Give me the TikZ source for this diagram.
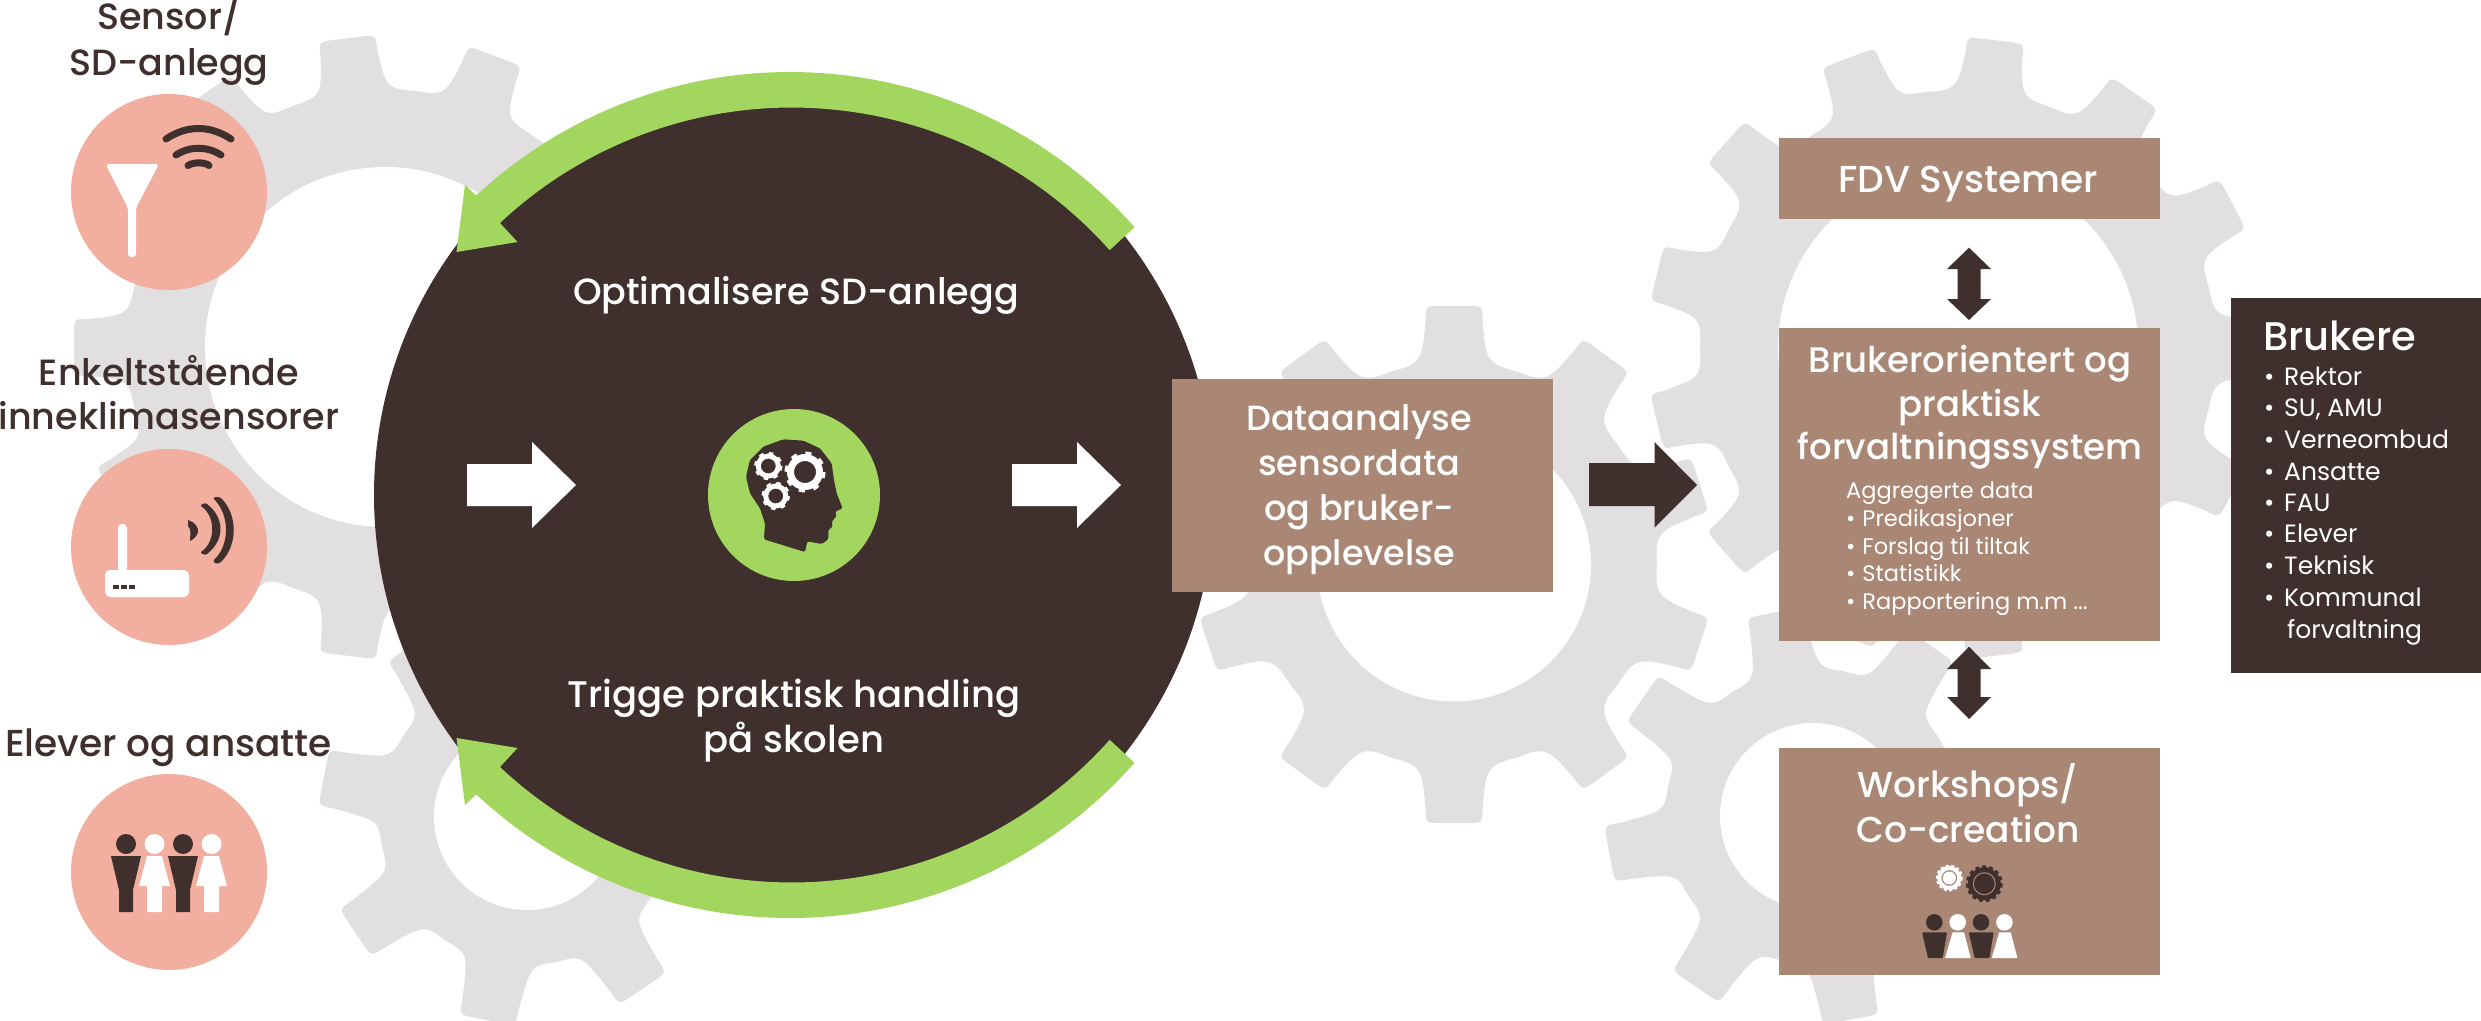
\documentclass[tikz,border=0pt]{standalone}
\usepackage{fontspec}
\setmainfont{Poppins}
\newfontfamily\med{Poppins Medium}
\usetikzlibrary{calc}
\definecolor{dk}{RGB}{63,48,45}
\definecolor{grn}{RGB}{163,214,95}
\definecolor{sal}{RGB}{242,174,158}
\definecolor{tan}{RGB}{170,135,116}
\definecolor{gry}{RGB}{225,223,224}
\newcommand\fs[2]{\fontsize{#1}{#2}\selectfont}
% cx cy R Rv hole n phase(screen ccw)
\newcommand\biggear[7]{%
\begin{scope}[shift={(#1,#2)}]
\pgfmathsetmacro\pp{360/#6}
\pgfmathsetmacro\hh{\pp/2}
\pgfmathsetmacro\nn{int(#6-1)}
\pgfmathsetmacro\Rs{#4+24}
\pgfmathsetmacro\angS{atan2(30,\Rs)}\pgfmathsetmacro\radS{veclen(\Rs,30)}
\pgfmathsetmacro\angSC{atan2(33,\Rs-25)}\pgfmathsetmacro\radSC{veclen(\Rs-25,33)}
\pgfmathsetmacro\angA{atan2(28.5,#3-15)}\pgfmathsetmacro\radA{veclen(#3-15,28.5)}
\pgfmathsetmacro\angC{atan2(28.5,#3)}\pgfmathsetmacro\radC{veclen(#3,28.5)}
\pgfmathsetmacro\angB{atan2(13,#3)}\pgfmathsetmacro\radB{veclen(#3,13)}
\pgfmathsetmacro\angV{\hh-25/(#4)*57.3}
\foreach \k in {0,...,\nn}{
\pgfmathsetmacro\a{-(#7)+\k*\pp}
\fill[gry] (0,0) -- ({\a-\hh}:#4) .. controls ({\a-\angV}:#4) and ({\a-\angSC}:\radSC) .. ({\a-\angS}:\radS)
 -- ({\a-\angA}:\radA) .. controls ({\a-\angC}:\radC) .. ({\a-\angB}:\radB)
 -- ({\a+\angB}:\radB) .. controls ({\a+\angC}:\radC) .. ({\a+\angA}:\radA)
 -- ({\a+\angS}:\radS) .. controls ({\a+\angSC}:\radSC) and ({\a+\angV}:#4) .. ({\a+\hh}:#4) -- cycle;
}
\fill[gry] (0,0) circle[radius=#4-1];
\fill[white] (0,0) circle[radius=#5];
\end{scope}}
% x y colour ringradius ringwidth teethradius teethwidth on off
\newcommand\tinygear[9]{%
\draw[#3,line width=#5] (#1,#2) circle[radius=#4];
\draw[#3,line width=#7,dash pattern=on #8 off #9] (#1,#2) circle[radius=#6];}
\tikzset{
 x=1pt,y=-1pt,
 whitetext/.style={text=white,anchor=base,align=center,inner sep=0pt},
 darktext/.style={text=dk,anchor=base,align=center,inner sep=0pt},
 listtext/.style={text=white,anchor=base west,inner sep=0pt},
 boxnode/.style={fill=tan,inner sep=0pt,anchor=north west},
 salcircle/.style={fill=sal,circle,inner sep=0pt,minimum size=196pt},
}
\begin{document}
\begin{tikzpicture}
\useasboundingbox (0,0) rectangle (2481,1020);
\fill[white] (0,0) rectangle (2481,1020);
% gears
\biggear{385}{347}{311}{258}{180}{13}{97}
\biggear{527}{817}{207}{148}{93}{8}{259}
\biggear{1454}{564.5}{258.5}{203}{137}{10}{90}
\biggear{1958}{348}{310}{258}{180}{13}{83}
\biggear{1813}{816}{207}{148}{93}{8}{100.5}
% main circle
\node[fill=dk,circle,inner sep=0pt,minimum size=840pt] (main) at (794,495) {};
% green arrows
\fill[grn] ([shift={(790,532)}]-41.5:460) arc[start angle=-41.5,end angle=-133,radius=460]
 -- (465,185) -- (456.5,252) -- (517.5,242) -- (500,223)
 arc[start angle=-133.2,end angle=-41.7,radius=426] -- cycle;
\fill[grn] ([shift={(790,458)}]41.5:460) arc[start angle=41.5,end angle=133,radius=460]
 -- (465,805) -- (456.5,738) -- (517.5,748) -- (500,767)
 arc[start angle=133.2,end angle=41.7,radius=426] -- cycle;
% head icon
\node[fill=grn,circle,inner sep=0pt,minimum size=172pt] (headdisc) at (794,495) {};
\begin{scope}[shift={(650,380)},x=0.33333pt,y=-0.33333pt]
\fill[dk,rounded corners=1.5pt] (342,478) -- (465,516) -- (472,484) -- (515,492) -- (535,478) -- (535,450) -- (548,440) -- (545,425) -- (560,408) -- (555,395) -- (578,385) -- (560,340) -- (552,300) -- (545,250) -- (510,205) -- (460,182) -- (400,178) -- (340,200) -- (300,240) -- (288,290) -- (300,340) -- (330,385) -- (345,430) -- cycle;
\end{scope}
\tinygear{805}{472}{white}{14.5}{7}{18.3}{4.5}{6}{8.4}
\tinygear{768.3}{466}{white}{10}{5}{12.7}{3.2}{4.5}{5.5}
\tinygear{775.7}{496}{white}{10}{5}{12.7}{3.2}{4.5}{5.5}
% white arrows
\fill[white] (467,464) -- (532,464) -- (532,442) -- (576,485) -- (532,528) -- (532,506) -- (467,506) -- cycle;
\fill[white] (1012,464) -- (1077,464) -- (1077,442) -- (1121,485) -- (1077,528) -- (1077,506) -- (1012,506) -- cycle;
\fill[dk] (1589,463) -- (1654.5,463) -- (1654.5,442) -- (1697,485) -- (1654.5,527.5) -- (1654.5,506) -- (1589,506) -- cycle;
% double arrows
\fill[dk] (1969,247.7) -- (1991,269) -- (1980.5,269) -- (1980.5,299) -- (1991,299) -- (1969,320) -- (1947,299) -- (1957.5,299) -- (1957.5,269) -- (1947,269) -- cycle;
\fill[dk] (1969,646.7) -- (1991,669) -- (1980.5,669) -- (1980.5,697) -- (1991,697) -- (1969,719) -- (1947,697) -- (1957.5,697) -- (1957.5,669) -- (1947,669) -- cycle;
% boxes
\node[boxnode,minimum width=381pt,minimum height=213pt] (data) at (1172,379) {};
\node[boxnode,minimum width=381pt,minimum height=81pt] (fdv) at (1778.5,138) {};
\node[boxnode,minimum width=381pt,minimum height=313pt] (bruk) at (1778.5,328) {};
\node[boxnode,minimum width=381pt,minimum height=227pt] (work) at (1778.5,748) {};
\node[fill=dk,inner sep=0pt,anchor=north west,minimum width=250pt,minimum height=375pt] (users) at (2231,297.3) {};
% circles
\node[salcircle] (c1) at (169,192) {};
\node[salcircle] (c2) at (169,547) {};
\node[salcircle] (c3) at (169,872) {};
% antenna icon
\fill[white,rounded corners=3pt] (105.5,164) -- (159,164) -- (136,208) -- (136,257) -- (128,257) -- (128,208) -- cycle;
\begin{scope}[dk,line cap=round]
\draw[line width=7pt] (166,139) .. controls (187,125) and (210,125) .. (231,139);
\draw[line width=7pt] (176,155) .. controls (190,146) and (207,146) .. (221,155);
\draw[line width=7pt] (188,165.5) .. controls (193,162) and (205,162) .. (209,165.5);
\end{scope}
% router icon
\fill[white,rounded corners=4pt] (118,572) -- (118,524) -- (127,524) -- (127,572) -- cycle;
\fill[white,rounded corners=5pt] (105,570) rectangle (189,597);
\draw[dk,line width=3.5pt,dash pattern=on 5.5 off 2.5] (113,587) -- (135,587);
\begin{scope}[dk]
\fill (188,520) .. controls (195,522) and (199,528) .. (198,532) .. controls (197,536) and (194,539) .. (190,541) .. controls (190,535) and (192,530) .. (188,526) -- cycle;
\fill (201,506) .. controls (216,516) and (216,542) .. (201,552) .. controls (200,553) and (205,556) .. (207,554) .. controls (225,540) and (225,518) .. (207,504) .. controls (205,502) and (200,505) .. (201,506) -- cycle;
\fill (214,499) .. controls (230,515) and (230,545) .. (214,560) .. controls (212,563) and (218,565) .. (221,562) .. controls (238,545) and (238,515) .. (221,498) .. controls (218,496) and (212,497) .. (214,499) -- cycle;
\end{scope}
% people
\foreach \o in {0,57}{
\begin{scope}[xshift=\o pt]
\fill[dk] (126,844) circle[radius=10];
\fill[dk] (111,856) -- (141,856) -- (133,890) -- (133,912) -- (119,912) -- (119,890) -- cycle;
\fill[white] (154.5,844) circle[radius=10];
\fill[white] (147,856) -- (162,856) -- (170,886) -- (162,886) -- (162,912) -- (147,912) -- (147,886) -- (139,886) -- cycle;
\end{scope}}
% workshop icon
\tinygear{1949.3}{878}{white}{10}{4}{12.3}{2.4}{3}{2.4}
\fill[white] (1949.3,878) circle[radius=6.5];
\tinygear{1984.3}{883.7}{dk}{13.5}{6}{16.8}{3.2}{3.8}{3.2}
\fill[dk] (1984.3,883.7) circle[radius=10.5];
\draw[tan,line width=1pt] (1984.3,883.7) circle[radius=11];
\foreach \o in {0,46.7}{
\begin{scope}[xshift=\o pt]
\fill[dk] (1934.3,922.3) circle[radius=8.3];
\fill[dk,rounded corners=1pt] (1922,932.3) -- (1947,932.3) -- (1942.7,958) -- (1928,958) -- cycle;
\fill[white] (1957.7,922.3) circle[radius=8.3];
\fill[white] (1952.5,932.3) -- (1964,932.3) -- (1970.7,958) -- (1945,958) -- cycle;
\end{scope}}
% text
\node[darktext,font=\med\fs{36.5}{46}] (t1) at (169,75) {Sensor/\\SD-anlegg};
\node[darktext,font=\med\fs{36.5}{44.5}] (t2) at (169,429.5) {Enkeltstående\\inneklimasensorer};
\node[darktext,font=\med\fs{37.5}{44}] (t3) at (168.5,756) {Elever og ansatte};
\node[whitetext,font=\med\fs{36.5}{45}] (opt) at (796,304) {Optimalisere SD-anlegg};
\node[whitetext,font=\med\fs{37}{45}] (trig) at (794,752) {Trigge praktisk handling\\på skolen};
\node[whitetext,font=\med\fs{35}{45}] (dt) at (1359,565) {Dataanalyse\\sensordata\\og bruker-\\opplevelse};
\node[whitetext,font=\med\fs{37.5}{45}] (ft) at (1968,192) {FDV Systemer};
\node[whitetext,font=\med\fs{35.5}{43.5}] (bt) at (1970,459.7) {Brukerorientert og\\praktisk\\forvaltningssystem};
\node[whitetext,font=\med\fs{36}{45}] (wt) at (1968,842) {Workshops/\\Co-creation};
\foreach \n/\y/\s in {a1/498.6/{Aggregerte data},a2/526.7/{•\hspace{7pt}Predikasjoner},a3/554/{•\hspace{7pt}Forslag til tiltak},a4/581.6/{•\hspace{7pt}Statistikk},a5/609/{•\hspace{7pt}Rapportering m.m ...}}{
\node[listtext,font=\fs{22.5}{26}] (\n) at (1846,\y) {\s};}
\node[listtext,font=\med\fs{40}{40}] (ut) at (2263,350) {Brukere};
\foreach \n/\y/\s in {u1/385/Rektor,u2/416.7/{SU, AMU},u3/448.3/Verneombud,u4/480/Ansatte,u5/511/FAU,u6/542.3/Elever,u7/574.3/Teknisk,u8/606/Kommunal}{
\node[listtext,font=\fs{25}{30}] (\n) at (2284,\y) {\s};
\node[listtext,font=\fs{25}{30}] (\n b) at (2264,\y) {•};}
\node[listtext,font=\fs{25}{30}] (u9) at (2287,638.3) {forvaltning};
\end{tikzpicture}
\end{document}
